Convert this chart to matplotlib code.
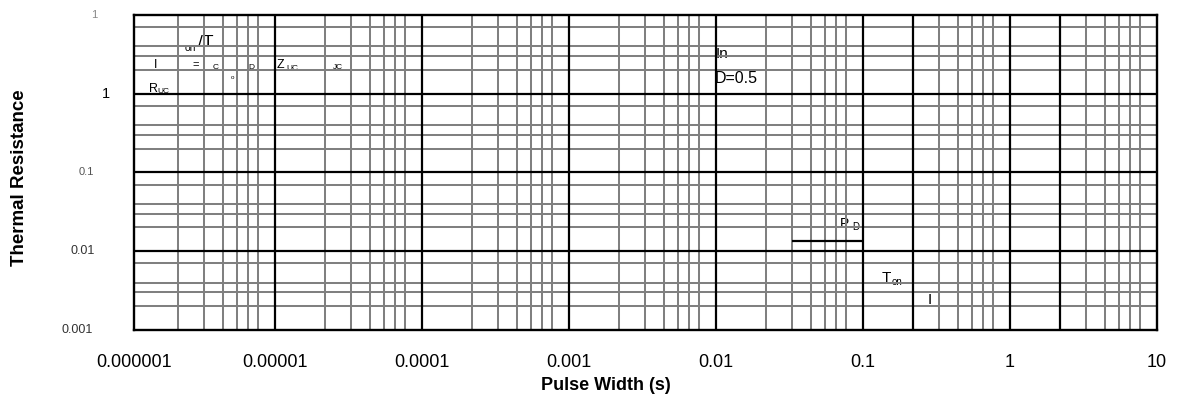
import matplotlib
matplotlib.use("Agg")
import matplotlib.pyplot as plt
from matplotlib import font_manager
from matplotlib.ticker import NullLocator, FixedLocator, FixedFormatter

# ---- axis ranges -------------------------------------------------------
x_range = (1.1e-6, 10.0)
y_range = (1e-3, 10.0)

# ---- pulse-width axis labels -------------------------------------------
x_tick_values = [1.1e-6, 1e-5, 1e-4, 1e-3, 1e-2, 1e-1, 1.0, 10.0]
x_tick_labels = ["0.000001", "0.00001", "0.0001", "0.001", "0.01", "0.1", "1", "10"]

# ---- thermal resistance axis labels ------------------------------------
y_tick_values = [10.0, 1.0, 0.1, 0.01, 0.001]
y_tick_labels = ["1", "1", "0.1", "0.01", "0.001"]

# ---- grid --------------------------------------------------------------
x_decades = [1e-6, 1e-5, 1e-4, 1e-3, 1e-2, 1e-1, 1.0]
x_minor_multipliers = [2.2, 3.3, 4.4, 5.5, 6.6, 7.7]
x_major_lines = [1e-5, 1e-4, 1e-3, 1e-2, 1e-1, 0.22, 1.0, 2.2]

y_decades = [1e-3, 1e-2, 1e-1, 1.0]
y_minor_multipliers = [2, 3, 4, 7]
y_major_lines = [0.01, 0.1, 1.0]

# ---- pulse sketch ------------------------------------------------------
pulse_x = [0.033, 0.1]
pulse_y = [0.0135, 0.0135]

# ---- fonts -------------------------------------------------------------
available = {f.name for f in font_manager.fontManager.ttflist}
MAIN_FONT = "Liberation Sans" if "Liberation Sans" in available else "DejaVu Sans"
NARROW_FONT = "Liberation Sans Narrow" if "Liberation Sans Narrow" in available else MAIN_FONT
plt.rcParams["font.family"] = [MAIN_FONT, "DejaVu Sans"]

GRAY = "#808080"
W, H = 1184, 400

fig = plt.figure(figsize=(W / 100, H / 100), dpi=100)
fig.patch.set_facecolor("white")
ax = fig.add_axes([134 / W, (H - 330) / H, 1023 / W, 315.3 / H])
ax.set_xscale("log")
ax.set_yscale("log")
ax.set_xlim(*x_range)
ax.set_ylim(*y_range)
ax.xaxis.set_minor_locator(NullLocator())
ax.yaxis.set_minor_locator(NullLocator())

# minor grid (gray)
for d in x_decades:
    for m in x_minor_multipliers:
        v = m * d
        if x_range[0] < v < x_range[1]:
            ax.axvline(v, color=GRAY, lw=1.45, zorder=2)
for d in y_decades:
    for m in y_minor_multipliers:
        v = m * d
        if y_range[0] < v < y_range[1]:
            ax.axhline(v, color=GRAY, lw=1.45, zorder=2)

# major grid (black)
for v in x_major_lines:
    ax.axvline(v, color="black", lw=1.6, zorder=3)
for v in y_major_lines:
    ax.axhline(v, color="black", lw=1.6, zorder=3)

# pulse power level
ax.plot(pulse_x, pulse_y, color="black", lw=1.6, zorder=3, solid_capstyle="butt")

for s in ax.spines.values():
    s.set_linewidth(1.7)
    s.set_color("black")
    s.set_zorder(4)

# x tick labels
ax.xaxis.set_major_locator(FixedLocator(x_tick_values))
ax.xaxis.set_major_formatter(FixedFormatter(x_tick_labels))
ax.tick_params(axis="x", length=0, pad=17, labelsize=13)
ax.yaxis.set_major_locator(NullLocator())

# y tick labels, each with its own look
y_label_styles = [
    dict(family=NARROW_FONT, size=8, color="#888888", dx=-37),
    dict(family=MAIN_FONT, size=10.5, color="black", dx=-24),
    dict(family=NARROW_FONT, size=8, color="#555555", dx=-40),
    dict(family=NARROW_FONT, size=9, color="#333333", dx=-39),
    dict(family=NARROW_FONT, size=9, color="#333333", dx=-41),
]
for val, lab, st in zip(y_tick_values, y_tick_labels, y_label_styles):
    ax.annotate(lab, xy=(0, val), xycoords=("axes fraction", "data"),
                xytext=(st["dx"], 0), textcoords="offset pixels",
                ha="right", va="center", fontsize=st["size"],
                family=st["family"], color=st["color"], annotation_clip=False)

# formula and pulse annotations, partly hidden behind the grid
def px_x(p):
    import math
    return x_range[0] * 10 ** ((p - 134) / 147.0)

def px_y(p):
    return 10 ** (-3 + (330 - p) / 78.83)

notes = [
    ("/T", 198, 47, 12.5),
    ("on", 185, 51, 7.5),
    ("I", 154, 68, 9),
    ("=", 192, 68, 8),
    ("C", 213, 69, 6),
    ("D", 248, 69, 6),
    ("o", 231, 79, 4.5),
    ("Z", 277, 68, 9),
    ("UC", 286, 70, 6),
    ("JC", 333, 69, 6),
    ("R", 149, 92, 9),
    ("UC", 157, 93, 6),
    ("In", 716, 58, 11),
    ("D=0.5", 715, 83, 11.5),
    ("P", 840, 228, 10),
    ("D", 852, 230, 7),
    ("T", 882, 282, 11),
    ("on", 892, 285, 7),
    ("I", 928, 304, 11),
]
for txt, px, py, size in notes:
    ax.text(px_x(px), px_y(py), txt, fontsize=size, ha="left", va="baseline",
            color="black", zorder=1)

fig.text(20 / W, 1 - 177.5 / H, "Thermal Resistance", rotation=90,
         ha="center", va="center", fontsize=13.5, fontweight="bold")
fig.text(606 / W, 1 - 386 / H, "Pulse Width (s)", ha="center", va="center",
         fontsize=13, fontweight="bold")

fig.savefig("out.png", dpi=100, facecolor="white")
